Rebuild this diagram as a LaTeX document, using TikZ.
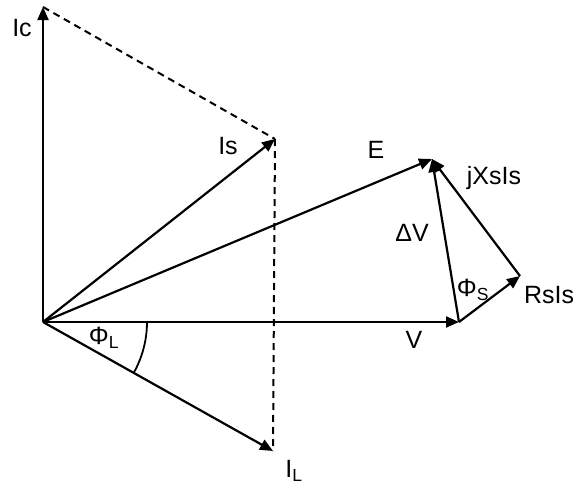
\documentclass[tikz,border=0pt]{standalone}
\usepackage{fontspec}
\setmainfont{Liberation Sans}
\usepackage{tikz}
\usetikzlibrary{arrows.meta, positioning}

\begin{document}
\begin{tikzpicture}[
    x=1pt, y=-1pt,
    >={Triangle[length=13pt, width=11pt]},
    phasor/.style={->, line width=2.2pt},
    proj/.style={line width=2pt, dash pattern=on 7pt off 5pt},
    lbl/.style={font=\fontsize{25}{28}\selectfont, inner sep=0pt},
]
\useasboundingbox (0,0) rectangle (576,485);

% phasor end points
\coordinate (O)  at (43,322);
\coordinate (Ic) at (43,7);
\coordinate (Is) at (275,139);
\coordinate (IL) at (273,451);
\coordinate (V)  at (459,322);
\coordinate (E)  at (432,159);
\coordinate (Rs) at (520,276);

% projections
\draw[proj] (Ic) -- (Is);
\draw[proj] (Is) -- (IL);

% currents
\draw[phasor] (O) -- (Ic);
\draw[phasor] (O) -- (Is);
\draw[phasor] (O) -- (IL);

% voltages
\draw[phasor] (O) -- (V);
\draw[phasor] (O) -- (E);
\draw[phasor] (V) -- (E);
\draw[phasor] (V) -- (Rs);
\draw[phasor] (Rs) -- (E);

% load angle
\draw[line width=1.8pt] ([xshift=104pt]O) arc[start angle=0, end angle=-29.1, radius=104pt];

\node[lbl] (lIc) at (22,28)  {Ic};
\node[lbl] (lIs) at (228,146) {Is};
\node[lbl] (lE)  at (376,150) {E};
\node[lbl] (lX)  at (494,178) {jXsIs};
\node[lbl] (lDV) at (412,233) {ΔV};
\node[lbl] (lPs) at (473,290) {Φ\textsubscript{S}};
\node[lbl] (lRs) at (549,295) {RsIs};
\node[lbl] (lV)  at (414,340) {V};
\node[lbl] (lPL) at (104,338) {Φ\textsubscript{L}};
\node[lbl] (lIL) at (294,471) {I\textsubscript{L}};
\end{tikzpicture}
\end{document}
